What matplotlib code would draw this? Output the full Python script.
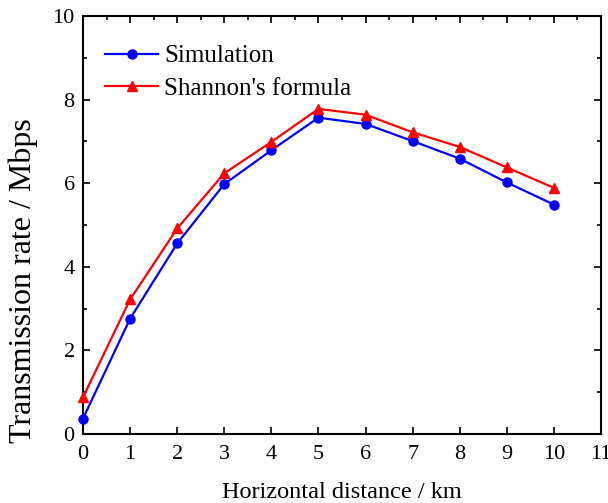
import numpy as np
import matplotlib
matplotlib.use("Agg")
import matplotlib.pyplot as plt
from matplotlib.ticker import MultipleLocator

plt.rcParams["font.family"] = ["Liberation Serif", "DejaVu Serif"]

distance = [0, 1, 2, 3, 4, 5, 6, 7, 8, 9, 10]
simulation = [0.37, 2.76, 4.56, 5.98, 6.79, 7.57, 7.42, 7.01, 6.59, 6.02, 5.49]
shannon = [0.88, 3.22, 4.92, 6.24, 6.99, 7.78, 7.64, 7.22, 6.87, 6.38, 5.89]

fig = plt.figure(figsize=(6.08, 5.03), dpi=100)
ax = fig.add_axes([0.1365, 0.137, 0.852, 0.831])

ax.plot(distance, simulation, color="blue", marker="o", markersize=6.5,
        linewidth=1.6, label="Simulation", clip_on=False, zorder=3)
ax.plot(distance, shannon, color="red", marker="^", markersize=7,
        linewidth=1.6, label="Shannon's formula", clip_on=False, zorder=3)

ax.set_xlim(0, 11)
ax.set_ylim(0, 10)
ax.xaxis.set_major_locator(MultipleLocator(1))
ax.xaxis.set_minor_locator(MultipleLocator(0.5))
ax.yaxis.set_major_locator(MultipleLocator(2))
ax.yaxis.set_minor_locator(MultipleLocator(1))

ax.tick_params(which="both", direction="in", top=True, right=True,
               labelsize=16, width=1.2)
ax.tick_params(which="major", length=5, pad=6)
ax.tick_params(axis="x", which="major", pad=8)
ax.tick_params(which="minor", length=3)
ax.tick_params(axis="x", which="minor", bottom=False)
for s in ax.spines.values():
    s.set_linewidth(1.5)

ax.set_xlabel("Horizontal distance / km", fontsize=17.5, labelpad=13)
ax.set_ylabel("Transmission rate / Mbps", fontsize=23)
ax.yaxis.set_label_coords(-0.087, 0.366)

ax.legend(loc="upper left", frameon=False, fontsize=18, handlelength=2.1,
          handletextpad=0.25, labelspacing=0.4,
          bbox_to_anchor=(0, 0.985))

fig.savefig("out.png", dpi=100)
